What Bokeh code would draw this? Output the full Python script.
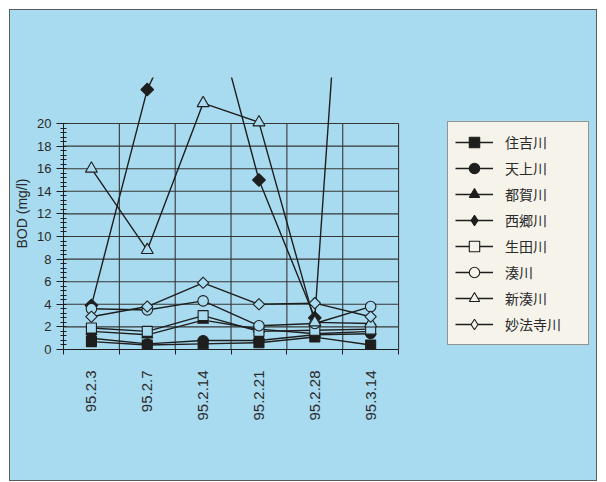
import math
import numpy as np
from bokeh.plotting import figure
from bokeh.models import (Range1d, FixedTicker, SingleIntervalTicker, Legend,
                          LegendItem, ColumnDataSource)
from bokeh.embed import file_html
from bokeh.resources import INLINE

# ---- data ----
dates = ["95.2.3", "95.2.7", "95.2.14", "95.2.21", "95.2.28", "95.3.14"]
rivers = ["住吉川", "天上川", "都賀川", "西郷川", "生田川", "湊川", "新湊川", "妙法寺川"]
sumiyoshi = [0.7, 0.4, 0.5, 0.6, 1.1, 0.4]
tenjo = [1.0, 0.5, 0.8, 0.8, 1.3, 1.4]
toga = [1.6, 1.3, 2.6, 1.8, 1.4, 1.6]
saigo = [3.9, 23.0, 33.5, 15.0, 2.8, 74.0]
ikuta = [1.9, 1.6, 3.0, 1.6, 1.7, 1.8]
minato = [3.6, 3.5, 4.3, 2.1, 2.3, 3.8]
shinminato = [16.0, 8.8, 21.8, 20.1, 2.4, 2.3]
myohoji = [2.9, 3.8, 5.9, 4.0, 4.1, 2.9]
series = [sumiyoshi, tenjo, toga, saigo, ikuta, minato, shinminato, myohoji]
y_ticks = list(range(0, 21, 2))

# ---- styles ----
markers = ["square", "circle", "triangle", "diamond",
           "square", "circle", "triangle", "diamond"]
filled = [True, True, True, True, False, False, False, False]
sizes = [10, 10, 11, 9, 10, 10.5, 12, 8]

BG = "#A8DBEF"
INK = "#1E1E1E"
GRID = "#363636"
LEG_BG = "#F5F3EA"
TXT = "#2A2A2A"
FONT = "Liberation Sans"
CJK = "Noto Sans CJK JP"

xs = list(range(len(dates)))
bounds = [i - 0.5 for i in range(len(dates) + 1)]
ymax = y_ticks[-1]

# frame spans plot area + legend area; plot area is x in [-0.5, 5.5]
p = figure(width=588, height=472, output_backend="svg", toolbar_location=None,
           x_range=Range1d(-0.5, 9.08), y_range=Range1d(0, 24.07),
           min_border_left=53, min_border_right=0, min_border_top=67,
           min_border_bottom=133, background_fill_color=None,
           border_fill_color=None, outline_line_color=None)
p.margin = (9, 0, 0, 9)
p.styles = {"border": "1px solid #5a5a5a", "background-color": BG}

# x axis
p.xaxis.bounds = (bounds[0], bounds[-1])
p.xaxis.ticker = FixedTicker(ticks=xs, minor_ticks=bounds)
p.xaxis.major_label_overrides = {i: d for i, d in enumerate(dates)}
p.xaxis.major_tick_out = 0
p.xaxis.major_tick_in = 0
p.xaxis.minor_tick_out = 5
p.xaxis.minor_tick_in = 0
p.xaxis.major_label_orientation = math.pi / 2
p.xaxis.major_label_standoff = 16
p.xaxis.major_label_text_font = FONT
p.xaxis.major_label_text_font_size = "15px"
p.xaxis.major_label_text_color = TXT
p.xaxis.axis_line_color = INK
p.xaxis.minor_tick_line_color = INK

# y axis
p.yaxis.ticker = SingleIntervalTicker(interval=2, num_minor_ticks=5)
p.yaxis.bounds = (0, ymax)
p.yaxis.major_tick_out = 7
p.yaxis.major_tick_in = 0
p.yaxis.minor_tick_out = 3
p.yaxis.minor_tick_in = 3
p.yaxis.major_label_standoff = 5
p.yaxis.major_label_text_font = FONT
p.yaxis.major_label_text_font_size = "13px"
p.yaxis.major_label_text_color = TXT
p.yaxis.axis_label = "BOD (mg/l)"
p.yaxis.axis_label_text_font = FONT
p.yaxis.axis_label_text_font_size = "14px"
p.yaxis.axis_label_text_font_style = "normal"
p.yaxis.axis_label_text_color = TXT
p.yaxis.axis_label_standoff = 4
p.yaxis.axis_line_color = INK
p.yaxis.major_tick_line_color = INK
p.yaxis.minor_tick_line_color = INK

# grid lines limited to the plot area
p.xgrid.visible = False
p.ygrid.visible = False
hy = y_ticks[1:]
p.segment(x0=[bounds[0]] * len(hy), y0=hy, x1=[bounds[-1]] * len(hy), y1=hy,
          line_color=GRID, line_width=1.1)
div_x = bounds[1:]
p.segment(x0=div_x, y0=[0] * len(div_x), x1=div_x, y1=[ymax] * len(div_x),
          line_color=GRID, line_width=1.1)

items = []
for name, vals, mk, fl, sz in zip(rivers, series, markers, filled, sizes):
    src = ColumnDataSource(dict(x=xs, y=vals))
    lr = p.line("x", "y", source=src, line_color=INK, line_width=1.4)
    fill = INK if fl else BG
    if mk == "diamond":
        p.scatter("x", "y", source=src, marker="square", angle=math.pi / 4,
                  size=sz, fill_color=fill, line_color=INK, line_width=1.1)
    else:
        p.scatter("x", "y", source=src, marker=mk, size=sz, fill_color=fill,
                  line_color=INK, line_width=1.1)
    # legend-only marker (nothing drawn on the plot)
    proxy = p.scatter(x=np.array([np.nan]), y=np.array([np.nan]), marker=mk,
                      size=sz, fill_color=INK if fl else LEG_BG,
                      line_color=INK, line_width=1.1)
    items.append(LegendItem(label=name, renderers=[lr, proxy]))

legend = Legend(items=items, location=(384, 4), padding=7, spacing=0,
                glyph_width=38, glyph_height=26, label_height=26,
                label_width=76, label_standoff=12,
                label_text_font=CJK, label_text_font_size="14px",
                label_text_color=TXT, background_fill_color=LEG_BG,
                background_fill_alpha=1, border_line_color="#333333",
                border_line_width=1, margin=0)
p.add_layout(legend, "center")

open("out.html", "w").write(file_html(p, INLINE))
